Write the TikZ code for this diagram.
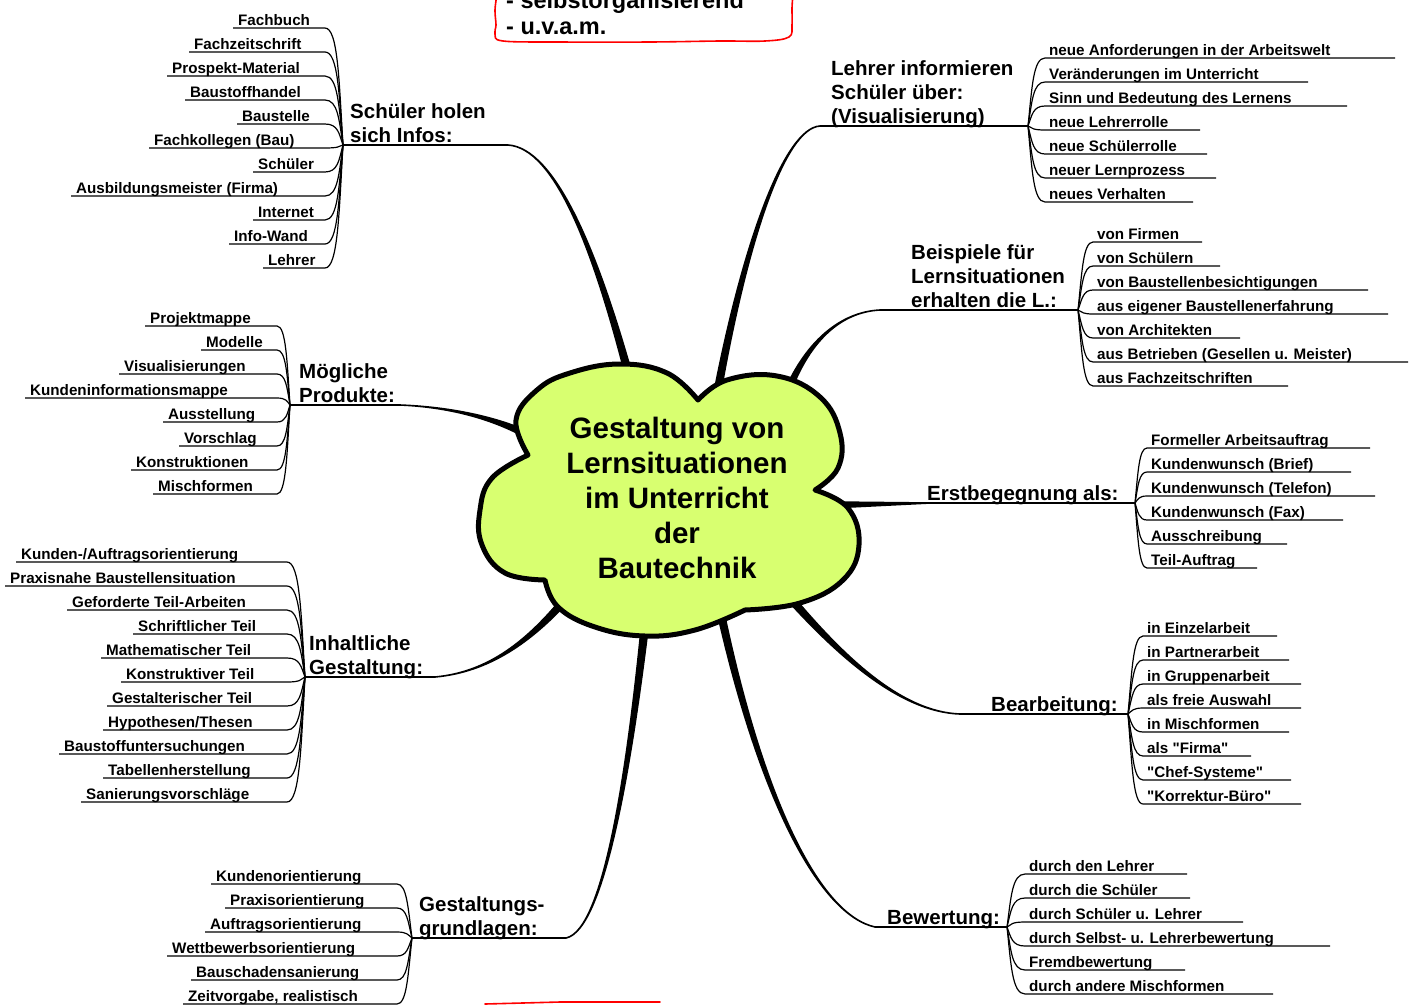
\documentclass[tikz,border=0pt]{standalone}
\usepackage{fontspec}
\setmainfont{Liberation Sans}[Ligatures=TeXOff]
\definecolor{cloudgreen}{RGB}{216,255,112}
\tikzset{
	mainedge/.style={fill, line width=1.6pt, line join=round},
	labeledge/.style={line width=1.6pt},
	subedge/.style={line width=1.2pt},
	cloudshape/.style={fill=cloudgreen, line width=5pt, line join=round},
	redline/.style={red, line width=1.6pt, line cap=round, line join=round},
	subnode/.style={anchor=base west, inner sep=0pt, font=\bfseries\fontsize{15.2}{18}\selectfont},
	labelnode/.style={anchor=base west, inner sep=0pt, font=\bfseries\fontsize{20.5}{24}\selectfont},
	boxnode/.style={anchor=base west, inner sep=0pt, font=\bfseries\fontsize{23.5}{26}\selectfont},
	titlenode/.style={align=center, inner sep=0pt, font=\bfseries\fontsize{29.5}{35}\selectfont}
}

\begin{document}
\begin{tikzpicture}[x=1pt, y=1pt]
	\useasboundingbox (0,0) rectangle (1417,-1005);
	\clip (0,0) rectangle (1417,-1005);

	% red notes, cut by the page edge
	\draw[redline] plot[smooth, tension=0.6] coordinates {(497,6) (495,-10) (496,-25) (495,-34) (503,-41) (560,-42) (650,-42) (720,-41) (765,-41) (789,-37) (792,-25) (792,-8) (793,6)};
	\node[boxnode] (selbst) at (506,-8) {- selbstorganisierend};
	\node[boxnode] (uvam) at (506,-34) {- u.v.a.m.};
	\draw[redline] (485,-1004) -- (560,-1002) -- (660,-1002);

	% hubs, joints and cloud ends of the branches
	\coordinate (infos) at (343,-145);
	\coordinate (infos-j) at (508,-145);
	\coordinate (infos-c) at (628,-372);
	\coordinate (lehrer) at (1028,-126);
	\coordinate (lehrer-j) at (820,-126);
	\coordinate (lehrer-c) at (716,-400);
	\coordinate (beispiele) at (1078,-310);
	\coordinate (beispiele-j) at (880,-310);
	\coordinate (beispiele-c) at (785,-398);
	\coordinate (erst) at (1135,-503);
	\coordinate (erst-j) at (930,-503);
	\coordinate (erst-c) at (830,-505);
	\coordinate (bearb) at (1128,-714);
	\coordinate (bearb-j) at (960,-714);
	\coordinate (bearb-c) at (790,-598);
	\coordinate (bewert) at (1007,-927);
	\coordinate (bewert-j) at (875,-927);
	\coordinate (bewert-c) at (718,-600);
	\coordinate (grundlagen) at (412,-938);
	\coordinate (grundlagen-j) at (566,-938);
	\coordinate (grundlagen-c) at (645,-625);
	\coordinate (inhalt) at (305,-677);
	\coordinate (inhalt-j) at (435,-677);
	\coordinate (inhalt-c) at (565,-600);
	\coordinate (produkte) at (290,-405);
	\coordinate (produkte-j) at (400,-405);
	\coordinate (produkte-c) at (530,-436);

	% connectors to the cloud
	\filldraw[mainedge] (infos-j) .. controls (555,-148) and (597,-250) .. ([xshift=3.5pt]infos-c) -- ([xshift=-3.5pt]infos-c) .. controls (593,-250) and (555,-148) .. (infos-j) -- cycle;
	\filldraw[mainedge] (lehrer-j) .. controls (785,-128) and (747,-240) .. ([xshift=3.5pt]lehrer-c) -- ([xshift=-3.5pt]lehrer-c) .. controls (743,-240) and (785,-128) .. (lehrer-j) -- cycle;
	\filldraw[mainedge] (beispiele-j) .. controls (840,-312) and (808,-342) .. ([xshift=3.5pt]beispiele-c) -- ([xshift=-3.5pt]beispiele-c) .. controls (804,-342) and (840,-312) .. (beispiele-j) -- cycle;
	\filldraw[mainedge] (erst-j) -- ([yshift=3pt]erst-c) -- ([yshift=-3pt]erst-c) -- cycle;
	\filldraw[mainedge] (bearb-j) .. controls (900,-712) and (841.5,-653.7) .. ([shift={(2.6,2.3)}]bearb-c) -- ([shift={(-2.6,-2.3)}]bearb-c) .. controls (838.5,-656.3) and (900,-712) .. (bearb-j) -- cycle;
	\filldraw[mainedge] (bewert-j) .. controls (820,-915) and (762,-800) .. ([xshift=3.5pt]bewert-c) -- ([xshift=-3.5pt]bewert-c) .. controls (758,-800) and (820,-915) .. (bewert-j) -- cycle;
	\filldraw[mainedge] (grundlagen-j) .. controls (605,-930) and (632,-760) .. ([xshift=3.5pt]grundlagen-c) -- ([xshift=-3.5pt]grundlagen-c) .. controls (628,-760) and (605,-930) .. (grundlagen-j) -- cycle;
	\filldraw[mainedge] (inhalt-j) .. controls (490,-672) and (531.5,-641.3) .. ([shift={(2.6,-2.3)}]inhalt-c) -- ([shift={(-2.6,2.3)}]inhalt-c) .. controls (528.5,-638.7) and (490,-672) .. (inhalt-j) -- cycle;
	\filldraw[mainedge] (produkte-j) .. controls (450,-407) and (495.8,-416.5) .. ([shift={(1.6,3.1)}]produkte-c) -- ([shift={(-1.6,-3.1)}]produkte-c) .. controls (494.2,-419.5) and (450,-407) .. (produkte-j) -- cycle;

	% cloud
	\filldraw[cloudshape] plot[smooth, tension=0.7] coordinates {(528,-455) (516,-420) (537,-390) (570,-373) (620,-364) (667,-373) (698,-400)}
		-- plot[smooth, tension=0.7] coordinates {(698,-400) (727,-380) (777,-376) (820,-397) (840,-433) (838,-468) (815,-490)}
		-- plot[smooth, tension=0.7] coordinates {(815,-490) (848,-508) (859,-545) (843,-580) (800,-603) (745,-610)}
		-- plot[smooth, tension=0.7] coordinates {(745,-610) (695,-630) (645,-636) (595,-627) (558,-607) (545,-580)}
		-- plot[smooth, tension=0.7] coordinates {(545,-580) (505,-573) (482,-545) (480,-510) (492,-478) (528,-455)}
		-- cycle;
	\node[titlenode] (title) at (677,-498) {Gestaltung von\\Lernsituationen\\im Unterricht\\der\\Bautechnik};

	% Schueler holen sich Infos
	\node[labelnode] (infos-a) at (350,-118) {Schüler holen};
	\node[labelnode] (infos-b) at (350,-142) {sich Infos:};
	\draw[labeledge] (infos) -- (infos-j);
	\foreach \txt/\uy/\xs [count=\i] in {Fachbuch/28/238, Fachzeitschrift/52/194, Prospekt-Material/76/172, Baustoffhandel/100/190, Baustelle/124/242, Fachkollegen (Bau)/148/154, Schüler/172/258, Ausbildungsmeister (Firma)/196/76, Internet/220/258, Info-Wand/244/234, Lehrer/268/268} {
		\node[subnode] (infos-\i) at (\xs,{3-\uy}) {\txt};
		\coordinate (infos-s\i) at ({\xs-5},-\uy);
		\coordinate (infos-e\i) at (325,-\uy);
		\draw[subedge] (infos-s\i) -- (infos-e\i) .. controls (338,-\uy) and (339,{-145-0.55*(\uy-145)}) .. (infos);
	}

	% Lehrer informieren
	\node[labelnode] (lehrer-a) at (831,-75) {Lehrer informieren};
	\node[labelnode] (lehrer-b) at (831,-99) {Schüler über:};
	\node[labelnode] (lehrer-d) at (831,-123) {(Visualisierung)};
	\draw[labeledge] (lehrer-j) -- (lehrer);
	\foreach \txt/\uy/\xe [count=\i] in {neue Anforderungen in der Arbeitswelt/58/1395, Veränderungen im Unterricht/82/1308, Sinn und Bedeutung des Lernens/106/1347, neue Lehrerrolle/130/1200, neue Schülerrolle/154/1207, neuer Lernprozess/178/1216, neues Verhalten/202/1193} {
		\node[subnode] (lehrer-\i) at (1049,{3-\uy}) {\txt};
		\coordinate (lehrer-s\i) at (1045,-\uy);
		\coordinate (lehrer-e\i) at (\xe,-\uy);
		\draw[subedge] (lehrer) .. controls (1032,{-126-0.55*(\uy-126)}) and (1033,-\uy) .. (lehrer-s\i) -- (lehrer-e\i);
	}

	% Beispiele fuer Lernsituationen
	\node[labelnode] (beispiele-a) at (911,-259) {Beispiele für};
	\node[labelnode] (beispiele-b) at (911,-283) {Lernsituationen};
	\node[labelnode] (beispiele-d) at (911,-307) {erhalten die L.:};
	\draw[labeledge] (beispiele-j) -- (beispiele);
	\foreach \txt/\uy/\xe [count=\i] in {von Firmen/242/1202, von Schülern/266/1220, von Baustellenbesichtigungen/290/1368, aus eigener Baustellenerfahrung/314/1388, von Architekten/338/1240, aus Betrieben (Gesellen u. Meister)/362/1408, aus Fachzeitschriften/386/1288} {
		\node[subnode] (beispiele-\i) at (1097,{3-\uy}) {\txt};
		\coordinate (beispiele-s\i) at (1093,-\uy);
		\coordinate (beispiele-e\i) at (\xe,-\uy);
		\draw[subedge] (beispiele) .. controls (1082,{-310-0.55*(\uy-310)}) and (1083,-\uy) .. (beispiele-s\i) -- (beispiele-e\i);
	}

	% Erstbegegnung
	\node[labelnode] (erst-a) at (927,-500) {Erstbegegnung als:};
	\draw[labeledge] (erst-j) -- (erst);
	\foreach \txt/\uy/\xe [count=\i] in {Formeller Arbeitsauftrag/448/1370, Kundenwunsch (Brief)/472/1351, Kundenwunsch (Telefon)/496/1375, Kundenwunsch (Fax)/520/1343, Ausschreibung/544/1287, Teil-Auftrag/568/1257} {
		\node[subnode] (erst-\i) at (1151,{3-\uy}) {\txt};
		\coordinate (erst-s\i) at (1147,-\uy);
		\coordinate (erst-e\i) at (\xe,-\uy);
		\draw[subedge] (erst) .. controls (1138,{-503-0.55*(\uy-503)}) and (1139,-\uy) .. (erst-s\i) -- (erst-e\i);
	}

	% Bearbeitung
	\node[labelnode] (bearb-a) at (991,-711) {Bearbeitung:};
	\draw[labeledge] (bearb-j) -- (bearb);
	\foreach \txt/\uy/\xe [count=\i] in {in Einzelarbeit/636/1277, in Partnerarbeit/660/1289, in Gruppenarbeit/684/1301, als freie Auswahl/708/1301, in Mischformen/732/1289, als "Firma"/756/1251, "Chef-Systeme"/780/1291, "Korrektur-Büro"/804/1301} {
		\node[subnode] (bearb-\i) at (1147,{3-\uy}) {\txt};
		\coordinate (bearb-s\i) at (1143,-\uy);
		\coordinate (bearb-e\i) at (\xe,-\uy);
		\draw[subedge] (bearb) .. controls (1132,{-714-0.55*(\uy-714)}) and (1133,-\uy) .. (bearb-s\i) -- (bearb-e\i);
	}

	% Bewertung
	\node[labelnode] (bewert-a) at (887,-924) {Bewertung:};
	\draw[labeledge] (bewert-j) -- (bewert);
	\foreach \txt/\uy/\xe [count=\i] in {durch den Lehrer/874/1187, durch die Schüler/898/1190, durch Schüler u. Lehrer/922/1243, durch Selbst- u. Lehrerbewertung/946/1330, Fremdbewertung/970/1185, durch andere Mischformen/994/1273} {
		\node[subnode] (bewert-\i) at (1029,{3-\uy}) {\txt};
		\coordinate (bewert-s\i) at (1025,-\uy);
		\coordinate (bewert-e\i) at (\xe,-\uy);
		\draw[subedge] (bewert) .. controls (1011,{-927-0.55*(\uy-927)}) and (1012,-\uy) .. (bewert-s\i) -- (bewert-e\i);
	}

	% Gestaltungsgrundlagen
	\node[labelnode] (grundlagen-a) at (419,-911) {Gestaltungs-};
	\node[labelnode] (grundlagen-b) at (419,-935) {grundlagen:};
	\draw[labeledge] (grundlagen) -- (grundlagen-j);
	\foreach \txt/\uy/\xs [count=\i] in {Kundenorientierung/884/216, Praxisorientierung/908/230, Auftragsorientierung/932/210, Wettbewerbsorientierung/956/172, Bauschadensanierung/980/196, {Zeitvorgabe, realistisch}/1004/188} {
		\node[subnode] (grundlagen-\i) at (\xs,{3-\uy}) {\txt};
		\coordinate (grundlagen-s\i) at ({\xs-5},-\uy);
		\coordinate (grundlagen-e\i) at (397,-\uy);
		\draw[subedge] (grundlagen-s\i) -- (grundlagen-e\i) .. controls (407,-\uy) and (408,{-938-0.55*(\uy-938)}) .. (grundlagen);
	}

	% Inhaltliche Gestaltung
	\node[labelnode] (inhalt-a) at (309,-650) {Inhaltliche};
	\node[labelnode] (inhalt-b) at (309,-674) {Gestaltung:};
	\draw[labeledge] (inhalt) -- (inhalt-j);
	\foreach \txt/\uy/\xs [count=\i] in {{Kunden-/Auftragsorientierung}/562/21, Praxisnahe Baustellensituation/586/10, Geforderte Teil-Arbeiten/610/72, Schriftlicher Teil/634/138, Mathematischer Teil/658/106, Konstruktiver Teil/682/126, Gestalterischer Teil/706/112, {Hypothesen/Thesen}/730/108, Baustoffuntersuchungen/754/64, Tabellenherstellung/778/108, Sanierungsvorschläge/802/86} {
		\node[subnode] (inhalt-\i) at (\xs,{3-\uy}) {\txt};
		\coordinate (inhalt-s\i) at ({\xs-5},-\uy);
		\coordinate (inhalt-e\i) at (287,-\uy);
		\draw[subedge] (inhalt-s\i) -- (inhalt-e\i) .. controls (300,-\uy) and (301,{-677-0.55*(\uy-677)}) .. (inhalt);
	}

	% Moegliche Produkte
	\node[labelnode] (produkte-a) at (299,-378) {Mögliche};
	\node[labelnode] (produkte-b) at (299,-402) {Produkte:};
	\draw[labeledge] (produkte) -- (produkte-j);
	\foreach \txt/\uy/\xs [count=\i] in {Projektmappe/326/150, Modelle/350/206, Visualisierungen/374/124, Kundeninformationsmappe/398/30, Ausstellung/422/168, Vorschlag/446/184, Konstruktionen/470/136, Mischformen/494/158} {
		\node[subnode] (produkte-\i) at (\xs,{3-\uy}) {\txt};
		\coordinate (produkte-s\i) at ({\xs-5},-\uy);
		\coordinate (produkte-e\i) at (277,-\uy);
		\draw[subedge] (produkte-s\i) -- (produkte-e\i) .. controls (286,-\uy) and (287,{-405-0.55*(\uy-405)}) .. (produkte);
	}
\end{tikzpicture}
\end{document}
